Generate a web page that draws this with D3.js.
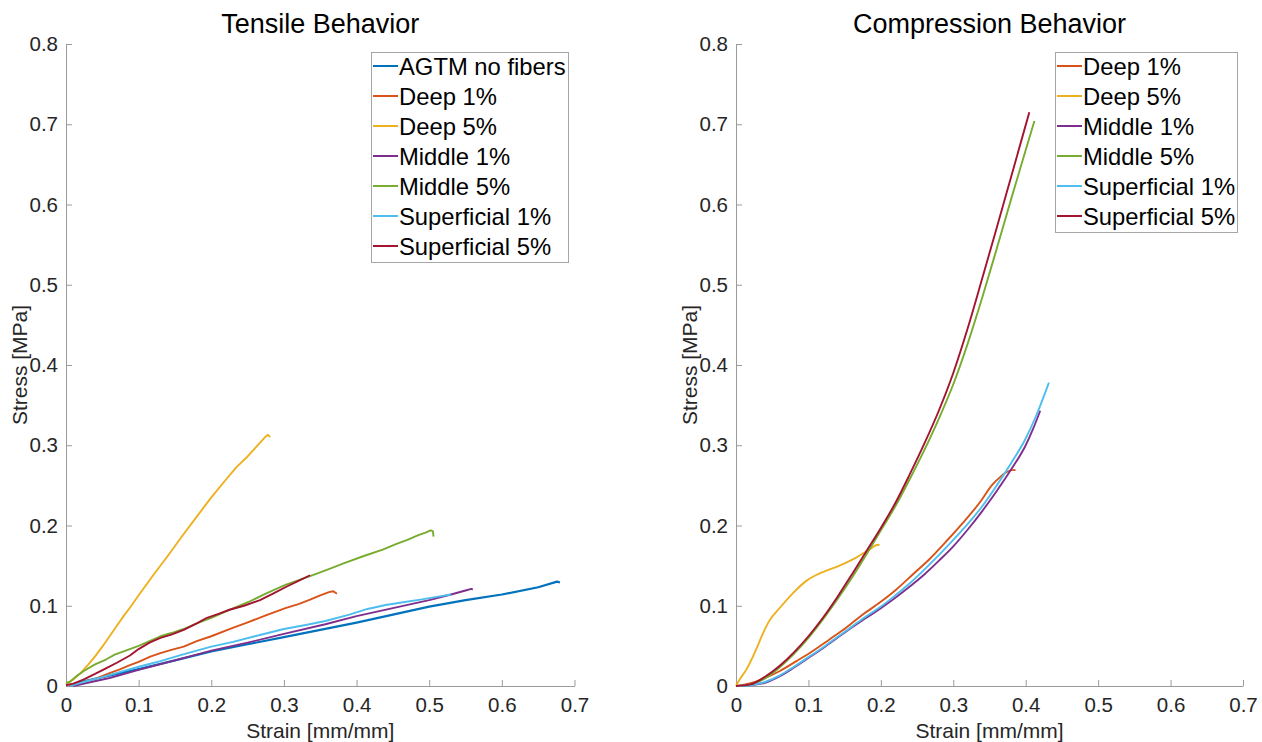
<!DOCTYPE html>
<html>
<head>
<meta charset="utf-8">
<script src="https://cdn.jsdelivr.net/npm/d3@7"></script>
<style>
  html, body { margin: 0; padding: 0; background: #fff; }
  svg { display: block; }
  text { font-family: "Liberation Sans", Arial, Helvetica, sans-serif; }
</style>
</head>
<body>
<svg id="chart" width="1262" height="742"></svg>
<script>
// ---------- tick labels ----------
const xTicks = [0, 0.1, 0.2, 0.3, 0.4, 0.5, 0.6, 0.7];
const yTicks = [0, 0.1, 0.2, 0.3, 0.4, 0.5, 0.6, 0.7, 0.8];

// ---------- tensile series [strain, stress] ----------
const tenAGTM = [[0.005,0],[0.02,0.005],[0.05,0.011],[0.1,0.021],[0.15,0.032],[0.2,0.043],[0.25,0.052],[0.3,0.061],[0.35,0.07],[0.4,0.079],[0.45,0.089],[0.5,0.099],[0.55,0.107],[0.6,0.114],[0.65,0.123],[0.676,0.13],[0.68,0.129]];
const tenDeep1 = [[0.005,0],[0.02,0.004],[0.042,0.0096],[0.06,0.016],[0.075,0.021],[0.088,0.026],[0.1,0.03],[0.116,0.0365],[0.13,0.041],[0.145,0.045],[0.162,0.049],[0.18,0.056],[0.2,0.062],[0.225,0.071],[0.252,0.08],[0.275,0.088],[0.302,0.097],[0.32,0.102],[0.336,0.1075],[0.35,0.113],[0.362,0.117],[0.368,0.118],[0.373,0.115]];
const tenDeep5 = [[0,0.002],[0.01,0.008],[0.02,0.016],[0.03,0.026],[0.04,0.037],[0.05,0.049],[0.06,0.062],[0.07,0.075],[0.08,0.088],[0.09,0.1],[0.1,0.113],[0.12,0.138],[0.14,0.162],[0.16,0.187],[0.18,0.211],[0.2,0.235],[0.22,0.257],[0.235,0.273],[0.25,0.286],[0.26,0.296],[0.27,0.306],[0.275,0.311],[0.278,0.313],[0.281,0.31]];
const tenMiddle1 = [[0.01,0],[0.03,0.004],[0.06,0.01],[0.1,0.02],[0.15,0.032],[0.2,0.044],[0.25,0.054],[0.3,0.065],[0.357,0.077],[0.4,0.087],[0.45,0.097],[0.5,0.107],[0.53,0.114],[0.55,0.119],[0.558,0.121],[0.56,0.12]];
const tenMiddle5 = [[0,0.004],[0.005,0.005],[0.014,0.012],[0.025,0.019],[0.04,0.027],[0.055,0.033],[0.067,0.039],[0.085,0.045],[0.1,0.05],[0.115,0.056],[0.13,0.062],[0.145,0.066],[0.162,0.071],[0.18,0.078],[0.2,0.085],[0.225,0.095],[0.252,0.105],[0.275,0.115],[0.302,0.126],[0.336,0.137],[0.36,0.145],[0.383,0.153],[0.41,0.162],[0.436,0.17],[0.455,0.177],[0.47,0.182],[0.485,0.188],[0.495,0.191],[0.502,0.194],[0.505,0.193],[0.506,0.186]];
const tenSuper1 = [[0.005,0],[0.02,0.004],[0.05,0.011],[0.088,0.021],[0.1,0.024],[0.13,0.031],[0.16,0.039],[0.2,0.049],[0.23,0.055],[0.26,0.062],[0.3,0.071],[0.33,0.076],[0.357,0.081],[0.39,0.089],[0.415,0.096],[0.44,0.101],[0.462,0.104],[0.49,0.108],[0.51,0.111],[0.53,0.114]];
const tenSuper5 = [[0,0.001],[0.01,0.003],[0.024,0.008],[0.04,0.015],[0.055,0.022],[0.07,0.029],[0.088,0.038],[0.1,0.046],[0.115,0.054],[0.13,0.06],[0.145,0.064],[0.162,0.07],[0.18,0.078],[0.194,0.085],[0.21,0.09],[0.225,0.095],[0.245,0.1],[0.267,0.107],[0.285,0.115],[0.304,0.124],[0.32,0.131],[0.336,0.138]];

// ---------- compression series [strain, stress] ----------
const comDeep1 = [[0,0],[0.019,0.0033],[0.0376,0.009],[0.0606,0.0187],[0.0835,0.031],[0.106,0.0436],[0.129,0.058],[0.152,0.0726],[0.175,0.089],[0.198,0.1037],[0.221,0.12],[0.244,0.139],[0.267,0.158],[0.29,0.18],[0.313,0.203],[0.336,0.228],[0.354,0.251],[0.363,0.259],[0.3725,0.266],[0.381,0.269],[0.386,0.269]];
const comDeep5 = [[0,0],[0.005,0.008],[0.0147,0.021],[0.028,0.046],[0.036,0.063],[0.0445,0.079],[0.0606,0.0975],[0.079,0.116],[0.097,0.131],[0.11,0.138],[0.12,0.142],[0.143,0.15],[0.166,0.16],[0.184,0.17],[0.196,0.176],[0.198,0.175]];
const comMiddle1 = [[0,0],[0.02,0.001],[0.04,0.004],[0.06,0.012],[0.08,0.023],[0.1,0.035],[0.12,0.047],[0.14,0.06],[0.16,0.073],[0.18,0.085],[0.2,0.097],[0.22,0.11],[0.24,0.124],[0.26,0.139],[0.28,0.156],[0.3,0.174],[0.32,0.195],[0.34,0.218],[0.36,0.243],[0.38,0.27],[0.4,0.3],[0.41,0.32],[0.42,0.343]];
const comMiddle5 = [[0,0],[0.02,0.0015],[0.04,0.0095],[0.06,0.023],[0.08,0.04],[0.1,0.06],[0.12,0.083],[0.14,0.108],[0.16,0.135],[0.18,0.164],[0.2,0.194],[0.22,0.224],[0.24,0.258],[0.26,0.294],[0.28,0.333],[0.3,0.376],[0.32,0.427],[0.34,0.484],[0.36,0.545],[0.38,0.607],[0.4,0.668],[0.412,0.704]];
const comSuper1 = [[0,0],[0.02,0.001],[0.04,0.005],[0.06,0.013],[0.08,0.024],[0.1,0.036],[0.12,0.048],[0.14,0.061],[0.16,0.074],[0.18,0.087],[0.2,0.099],[0.22,0.113],[0.24,0.128],[0.26,0.145],[0.28,0.163],[0.3,0.182],[0.32,0.202],[0.34,0.224],[0.36,0.25],[0.38,0.278],[0.398,0.305],[0.415,0.338],[0.432,0.378]];
const comSuper5 = [[0,0],[0.02,0.002],[0.04,0.0115],[0.06,0.025],[0.08,0.042],[0.1,0.062],[0.12,0.085],[0.14,0.111],[0.16,0.139],[0.18,0.168],[0.2,0.197],[0.22,0.228],[0.24,0.264],[0.26,0.302],[0.28,0.343],[0.3,0.39],[0.32,0.446],[0.34,0.508],[0.36,0.571],[0.38,0.635],[0.405,0.715]];

// ---------- names ----------
const tensileNames = ["AGTM no fibers","Deep 1%","Deep 5%","Middle 1%","Middle 5%","Superficial 1%","Superficial 5%"];
const compressionNames = ["Deep 1%","Deep 5%","Middle 1%","Middle 5%","Superficial 1%","Superficial 5%"];

// ---------- styles ----------
const colorByName = {
  "AGTM no fibers": "#0072BD",
  "Deep 1%": "#D95319",
  "Deep 5%": "#EDB120",
  "Middle 1%": "#7E2F8E",
  "Middle 5%": "#77AC30",
  "Superficial 1%": "#4DBEEE",
  "Superficial 5%": "#A2142F"
};
const axisColor = "#9b9b9b";
const textColor = "#262626";

const tensileData = [tenAGTM, tenDeep1, tenDeep5, tenMiddle1, tenMiddle5, tenSuper1, tenSuper5];
const compressionData = [comDeep1, comDeep5, comMiddle1, comMiddle5, comSuper1, comSuper5];

const svg = d3.select("#chart");

function drawPanel(opts) {
  const x = d3.scaleLinear().domain([0, 0.7]).range([opts.left, opts.right]);
  const y = d3.scaleLinear().domain([0, 0.8]).range([opts.bottom, opts.top]);
  const g = svg.append("g");

  // axes
  const xa = g.append("g").attr("transform", `translate(0,${opts.bottom})`)
    .call(d3.axisBottom(x).tickValues(xTicks).tickFormat(d => String(d))
      .tickSizeInner(-6).tickSizeOuter(0).tickPadding(11));
  const ya = g.append("g").attr("transform", `translate(${opts.left},0)`)
    .call(d3.axisLeft(y).tickValues(yTicks).tickFormat(d => String(d))
      .tickSizeInner(-6).tickSizeOuter(0).tickPadding(8));
  [xa, ya].forEach(a => {
    a.select(".domain").attr("stroke", axisColor).attr("stroke-width", 1);
    a.selectAll(".tick line").attr("stroke", axisColor).attr("stroke-width", 1);
    a.selectAll(".tick text").attr("fill", textColor)
      .style("font-size", "20.5px").style("font-family", '"Liberation Sans", Arial, sans-serif');
  });

  // lines
  const line = d3.line().x(d => x(d[0])).y(d => y(d[1])).curve(opts.curve);
  opts.data.forEach((ser, i) => {
    g.append("path").datum(ser)
      .attr("fill", "none")
      .attr("stroke", colorByName[opts.names[i]])
      .attr("stroke-width", opts.names[i] === "AGTM no fibers" ? 2.2 : 1.9)
      .attr("stroke-linejoin", "round")
      .attr("d", line);
  });

  // title
  g.append("text").attr("x", (opts.left + opts.right) / 2).attr("y", 33)
    .attr("text-anchor", "middle").attr("fill", "#000")
    .style("font-size", "27px").text(opts.title);
  // x label
  g.append("text").attr("x", (opts.left + opts.right) / 2).attr("y", 738)
    .attr("text-anchor", "middle").attr("fill", textColor)
    .style("font-size", "21px").text("Strain [mm/mm]");
  // y label
  g.append("text")
    .attr("transform", `translate(${opts.ylabelX},${(opts.top + opts.bottom) / 2}) rotate(-90)`)
    .attr("text-anchor", "middle").attr("fill", textColor)
    .style("font-size", "21px").text("Stress [MPa]");

  // legend
  const rowH = 30;
  const lg = g.append("g");
  lg.append("rect")
    .attr("x", opts.legX + 0.5).attr("y", 52.5)
    .attr("width", opts.legW).attr("height", rowH * opts.names.length)
    .attr("fill", "#fff").attr("stroke", "#a6a6a6").attr("stroke-width", 1);
  opts.names.forEach((n, i) => {
    const cy = 67 + i * rowH;
    lg.append("line").attr("x1", opts.legX + 2).attr("x2", opts.legX + 27)
      .attr("y1", cy - 1).attr("y2", cy - 1)
      .attr("stroke", colorByName[n]).attr("stroke-width", 2);
    lg.append("text").attr("x", opts.legX + 28).attr("y", cy + 8)
      .attr("fill", "#000").style("font-size", "23.8px").text(n);
  });
}

drawPanel({
  left: 66, right: 574.5, top: 44, bottom: 686,
  data: tensileData, names: tensileNames, title: "Tensile Behavior",
  ylabelX: 27, legX: 371, legW: 197, curve: d3.curveLinear
});
drawPanel({
  left: 736, right: 1243, top: 44, bottom: 686,
  data: compressionData, names: compressionNames, title: "Compression Behavior",
  ylabelX: 697, legX: 1055, legW: 182, curve: d3.curveMonotoneX
});
</script>
</body>
</html>
